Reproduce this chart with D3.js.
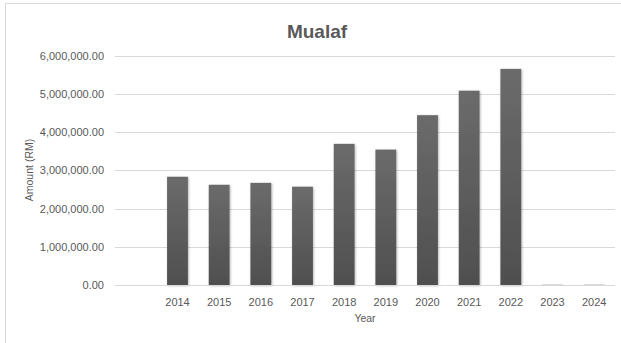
<!DOCTYPE html>
<html>
<head>
<meta charset="utf-8">
<script src="https://cdn.jsdelivr.net/npm/d3@7"></script>
<style>
  html, body { margin: 0; padding: 0; background: #ffffff; }
  svg { display: block; }
</style>
</head>
<body>
<svg id="chart" width="621" height="343"></svg>
<script>
// Zakat distribution to the Mualaf asnaf by year (RM)
const categories = ["", "2014", "2015", "2016", "2017", "2018", "2019", "2020", "2021", "2022", "2023", "2024"];
const amounts = [null, 2830000, 2620000, 2670000, 2570000, 3690000, 3540000, 4440000, 5080000, 5650000, 6000, 6000];
const yTicks = [0, 1000000, 2000000, 3000000, 4000000, 5000000, 6000000];
const chartTitle = "Mualaf";
const xTitle = "Year";
const yTitle = "Amount (RM)";

const svg = d3.select("#chart");
const textColor = "#595959";
const gridColor = "#d9d9d9";
const font = "'Liberation Sans', Arial, sans-serif";

const plot = { left: 115, right: 615, top: 55.5, bottom: 285 };

// chart frame
svg.append("rect")
  .attr("x", 5.5).attr("y", 3.5)
  .attr("width", 700).attr("height", 400)
  .attr("fill", "#ffffff")
  .attr("stroke", "#d9d9d9").attr("stroke-width", 1);

const x = d3.scaleBand()
  .domain(categories)
  .range([plot.left, plot.right])
  .paddingInner(0.5)
  .paddingOuter(0.25);

const y = d3.scaleLinear()
  .domain([0, 6000000])
  .range([plot.bottom, plot.top]);

const defs = svg.append("defs");
const grad = defs.append("linearGradient")
  .attr("id", "barFill")
  .attr("x1", 0).attr("y1", 0).attr("x2", 0).attr("y2", 1);
grad.append("stop").attr("offset", "0%").attr("stop-color", "#6b6b6b");
grad.append("stop").attr("offset", "100%").attr("stop-color", "#4f4f4f");

const shadow = defs.append("filter")
  .attr("id", "barShadow")
  .attr("x", "-50%").attr("y", "-50%").attr("width", "200%").attr("height", "200%");
shadow.append("feDropShadow")
  .attr("dx", 0.8).attr("dy", 0.8)
  .attr("stdDeviation", 1.2)
  .attr("flood-color", "#000000")
  .attr("flood-opacity", 0.3);

// horizontal gridlines
const yAxis = d3.axisLeft(y)
  .tickValues(yTicks)
  .tickSize(-(plot.right - plot.left))
  .tickPadding(11)
  .tickFormat(d3.format(",.2f"));

const gy = svg.append("g")
  .attr("transform", `translate(${plot.left},0)`)
  .call(yAxis);
gy.select(".domain").remove();
gy.selectAll(".tick line")
  .attr("stroke", gridColor)
  .attr("stroke-width", 1)
  .attr("shape-rendering", "crispEdges");
gy.selectAll(".tick text")
  .attr("fill", textColor)
  .style("font-family", font)
  .style("font-size", "11px");

// bars
svg.append("g")
  .selectAll("rect")
  .data(categories.map((c, i) => ({ c, v: amounts[i] })).filter(d => d.v !== null))
  .join("rect")
  .attr("x", d => x(d.c))
  .attr("y", d => y(d.v))
  .attr("width", x.bandwidth())
  .attr("height", d => y(0) - y(d.v))
  .attr("fill", "url(#barFill)")
  .attr("filter", "url(#barShadow)");

// category axis
const xAxis = d3.axisBottom(x).tickSize(0).tickPadding(13);
const gx = svg.append("g")
  .attr("transform", `translate(0,${plot.bottom})`)
  .call(xAxis);
gx.select(".domain")
  .attr("stroke", gridColor)
  .attr("stroke-width", 1)
  .attr("d", `M${plot.left},0.5H${plot.right}`);
gx.selectAll(".tick text")
  .attr("fill", textColor)
  .style("font-family", font)
  .style("font-size", "11px");

// titles
svg.append("text")
  .attr("x", 317).attr("y", 38)
  .attr("text-anchor", "middle")
  .attr("fill", textColor)
  .style("font-family", font)
  .style("font-weight", "bold")
  .style("font-size", "19px")
  .text(chartTitle);

svg.append("text")
  .attr("x", (plot.left + plot.right) / 2).attr("y", 322)
  .attr("text-anchor", "middle")
  .attr("fill", textColor)
  .style("font-family", font)
  .style("font-size", "10.5px")
  .text(xTitle);

svg.append("text")
  .attr("transform", "translate(33,170) rotate(-90)")
  .attr("text-anchor", "middle")
  .attr("fill", textColor)
  .style("font-family", font)
  .style("font-size", "10.5px")
  .text(yTitle);
</script>
</body>
</html>
